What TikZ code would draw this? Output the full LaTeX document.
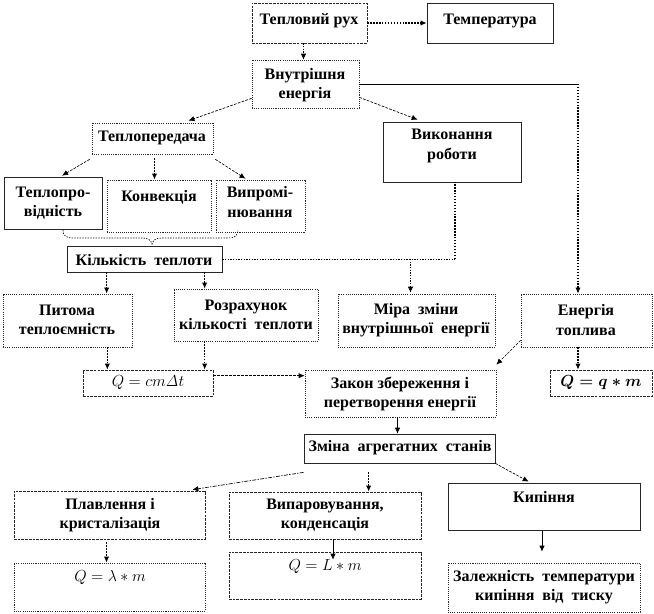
\documentclass[tikz,border=0pt]{standalone}
\usepackage[no-math]{fontspec}
\setmainfont{Liberation Serif}
\usetikzlibrary{arrows.meta,calc,fit}
\newcommand\bx[6]{\node[box,#6,fit={(#2,#3) (#4,#5)}] (#1) {};}
\begin{document}
\begin{tikzpicture}[x=0.75pt,y=-0.75pt,
  box/.style={draw=black!85, line width=0.5pt, inner sep=0pt},
  dsh/.style={dash pattern=on 2pt off 0.8pt},
  dtt/.style={dash pattern=on 0.8pt off 0.8pt},
  sld/.style={},
  txt/.style={font=\bfseries\fontsize{12}{14.5}\selectfont, align=center, inner sep=0pt},
  mth/.style={font=\fontsize{11.5}{13}\selectfont, inner sep=0pt},
  mthb/.style={font=\fontsize{11.5}{13}\selectfont\boldmath, inner sep=0pt},
  tip/.style={-{Latex[length=4.5pt,width=4pt]}},
  thk/.style={line width=1.1pt, dash pattern=on 1.1pt off 1.1pt},
  thn/.style={line width=0.5pt, dash pattern=on 1pt off 1pt},
  dsl/.style={line width=0.5pt, dash pattern=on 2pt off 1pt},
  dsd/.style={line width=0.5pt, dash pattern=on 3pt off 1pt on 1pt off 1pt},
  sol/.style={line width=0.5pt},
]
\useasboundingbox (0,0) rectangle (654,614);
% boxes
\bx{tr}{252}{3}{367}{43}{dsh}
\bx{temp}{427}{3}{553}{43}{sld}
\bx{vn}{252}{60}{359}{108}{dtt}
\bx{tp}{92}{123}{213}{154}{dtt}
\bx{vr}{383}{122}{521}{182}{sld}
\bx{tpv}{4}{177}{102}{229}{sld}
\bx{kon}{107}{180}{211}{232}{dtt}
\bx{vyp}{216}{180}{305}{232}{dtt}
\bx{kt}{67}{246}{222}{272}{sld}
\bx{pt}{3}{294}{132}{347}{dtt}
\bx{rk}{174}{289}{318}{341}{dtt}
\bx{mira}{338}{294}{495}{347}{dtt}
\bx{en}{521}{294}{652}{347}{dtt}
\bx{qa}{83}{370}{213}{396}{dsh}
\bx{zak}{305}{370}{496}{417}{dtt}
\bx{qb}{550}{370}{652}{396}{dsh}
\bx{zm}{304}{434}{495}{463}{sld}
\bx{pl}{14}{491}{205}{539}{dsh}
\bx{vp}{229}{492}{421}{539}{dsh}
\bx{kyp}{448}{483}{640}{530}{sld}
\bx{qc}{14}{563}{205}{611}{dtt}
\bx{qd}{229}{552}{421}{599}{dsh}
\bx{zal}{448}{563}{640}{612}{dtt}
% texts
\node[txt] (tr-t) at (309,21) {Тепловий рух};
\node[txt] (temp-t) at (490,21) {Температура};
\node[txt] (vn-t) at (305,85) {Внутрішня\\енергія};
\node[txt] (tp-t) at (152,138) {Теплопередача};
\node[txt] (vr-t) at (452,146) {Виконання\\роботи};
\node[txt] (tpv-t) at (53,203) {Теплопро-\\відність};
\node[txt] (kon-t) at (159,197) {Конвекція};
\node[txt] (vyp-t) at (260,202) {Випромі-\\нювання};
\node[txt] (kt-t) at (144,260) {Кількість~~теплоти};
\node[txt] (pt-t) at (67,320) {Питома\\теплоємність};
\node[txt] (rk-t) at (246,315) {Розрахунок\\кількості~~теплоти};
\node[txt] (mira-t) at (416,320) {Міра~~зміни\\внутрішньої~~енергії};
\node[txt] (en-t) at (586,320) {Енергія\\топлива};
\node[mth] (qa-t) at (148,383) {$Q = cm\mathit{\Delta} t$};
\node[txt] (zak-t) at (400,394) {Закон збереження і\\перетворення енергії};
\node[mthb] (qb-t) at (601,383) {$Q = q \ast m$};
\node[txt] (zm-t) at (400,448) {Зміна~~агрегатних~~станів};
\node[txt] (pl-t) at (110,515) {Плавлення і\\кристалізація};
\node[txt] (vp-t) at (325,515) {Випаровування,\\конденсація};
\node[txt] (kyp-t) at (544,497) {Кипіння};
\node[mth] (qc-t) at (110,577) {$Q = \lambda \ast m$};
\node[mth] (qd-t) at (325,567) {$Q = L \ast m$};
\node[txt] (zal-t) at (544,587) {Залежність~~температури\\кипіння~~від~~тиску};
% connectors
\draw[thk,tip] (tr.east) -- (temp.west);
\draw[thn,tip] ($(tr.south)+(-6,0)$) -- ($(vn.north)+(-2,0)$);
\draw[dsl,tip] ($(vn.south west)+(0,-10)$) -- ($(tp.north)+(36,-2)$);
\draw[dsl,tip] ($(vn.south east)+(0,-11)$) -- ($(vr.north west)+(35,-2)$);
\coordinate (ec) at (578,84);
\draw[sol] (vn.east |- ec) -- (ec);
\draw[thk,tip] (ec) -- (ec |- en.north);
\draw[dsl,tip] ($(tp.south west)+(-2,5)$) -- ($(tpv.north)+(9,-1)$);
\coordinate (t2) at ($(tp.south)+(2,4)$);
\draw[thk,tip] (t2) -- (t2 |- kon.north);
\draw[dsl,tip] ($(tp.south east)+(2,5)$) -- ($(vyp.north)+(-15,-1)$);
% brace
\coordinate (bl) at (63,230);
\coordinate (bm) at (152,244);
\coordinate (br) at (238,230);
\draw[thn] (bl) .. controls (63,236) and (66,238) .. (74,238) -- (142,238)
  .. controls (148,238) and (151,240) .. (bm)
  .. controls (153,240) and (156,238) .. (162,238) -- (228,238)
  .. controls (234,238) and (238,236) .. (br);
\coordinate (k1) at ($(kt.south west)+(40,0)$);
\coordinate (k2) at ($(kt.south west)+(138,0)$);
\draw[thk,tip] (k1) -- (k1 |- pt.north);
\draw[thk,tip] (k2) -- (k2 |- rk.north);
\coordinate (kx) at (455,0);
\coordinate (kc) at (kt.east -| kx);
\draw[thn] (kt.east) -- (kc);
\draw[thk] (kc) -- (kc |- vr.south);
\coordinate (mm) at ($(mira.north)+(-6,-1)$);
\draw[thn,tip] (kc -| mm) -- (mm);
\coordinate (p1) at ($(pt.south east)+(-25,0)$);
\coordinate (p2) at ($(rk.south west)+(31,0)$);
\draw[thk,tip] (p1) -- (p1 |- qa.north);
\draw[thk,tip] (p2) -- (p2 |- qa.north);
\coordinate (q1) at ($(qa.north east)+(0,6)$);
\draw[dsl,tip] (q1) -- (q1 -| zak.west);
\draw[dsl,tip] ($(en.south west)+(0,-7)$) -- ($(zak.north east)+(0,-5)$);
\draw[thk,tip] (en.south -| ec) -- (qb.north -| ec);
\coordinate (z1) at ($(zak.south)+(-3,0)$);
\draw[sol,tip] (z1) -- (z1 |- zm.north);
\draw[dsd,tip] ($(zm.south west)+(0,9)$) -- ($(pl.north east)+(-13,-1)$);
\coordinate (z2) at ($(zm.south west)+(65,9)$);
\draw[thk,tip] (z2) -- (z2 |- vp.north);
\draw[dsl,tip] (zm.south east) -- ($(kyp.north west)+(81,-1)$);
\coordinate (l1) at ($(pl.south)+(-3,3)$);
\draw[thk,tip] (l1) -- (l1 |- qc.north);
\draw[sol,tip] ($(vp.south)+(8,0)$) -- ($(qd.north)+(8,8)$);
\draw[sol,tip] ($(kyp.south)+(-2,0)$) -- ($(zal.north)+(-2,-11)$);
\end{tikzpicture}
\end{document}
